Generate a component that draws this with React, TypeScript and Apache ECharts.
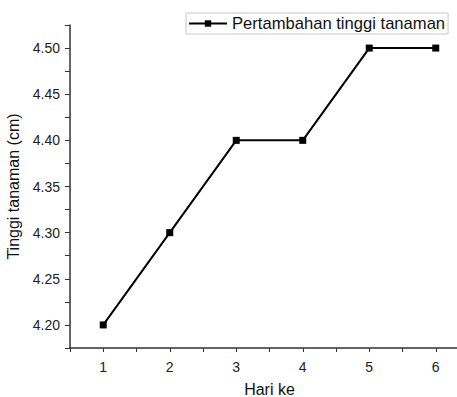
import React, { useEffect, useRef } from "react";
import * as echarts from "echarts";

const days = [1, 2, 3, 4, 5, 6];
const heights = [4.2, 4.3, 4.4, 4.4, 4.5, 4.5];
const seriesName = "Pertambahan tinggi tanaman";
const xName = "Hari ke";
const yName = "Tinggi tanaman (cm)";

export default function App() {
  const ref = useRef<HTMLDivElement>(null);
  useEffect(() => {
    if (!ref.current) return;
    const chart = echarts.init(ref.current, null, { renderer: "svg" });
    const font = "Liberation Sans, Arial, sans-serif";
    chart.setOption({
      animation: false,
      backgroundColor: "#ffffff",
      grid: { left: 70, right: -12, top: 25, bottom: 49, outerBoundsMode: "none", containLabel: false },
      legend: {
        left: 186,
        top: 13,
        data: [seriesName],
        itemWidth: 38,
        itemHeight: 8,
        itemGap: 4,
        padding: [2, 3, 2, 2],
        borderColor: "#c8c8c8",
        borderWidth: 1,
        textStyle: { fontFamily: font, fontSize: 16.6, color: "#111" },
      },
      xAxis: {
        type: "value",
        min: 0.5,
        max: 6.5,
        interval: 0.5,
        name: xName,
        nameLocation: "middle",
        nameGap: 33,
        nameTextStyle: { fontFamily: font, fontSize: 16, color: "#111" },
        axisLine: { show: true, onZero: false, lineStyle: { color: "#333", width: 1.5 } },
        axisTick: { show: true, length: 4, lineStyle: { color: "#333" } },
        splitLine: { show: false },
        axisLabel: {
          fontFamily: font,
          fontSize: 14,
          color: "#222",
          margin: 12,
          formatter: (v: number) => (Math.abs(v - Math.round(v)) < 1e-6 && v >= 1 && v <= 6 ? String(Math.round(v)) : ""),
        },
      },
      yAxis: {
        type: "value",
        min: 4.175,
        max: 4.525,
        interval: 0.025,
        name: yName,
        nameLocation: "middle",
        nameGap: 41,
        nameTextStyle: { fontFamily: font, fontSize: 16, color: "#111" },
        axisLine: { show: true, lineStyle: { color: "#333", width: 1.5 } },
        axisTick: { show: true, length: 5, lineStyle: { color: "#333" } },
        splitLine: { show: false },
        axisLabel: {
          fontFamily: font,
          fontSize: 14,
          color: "#222",
          margin: 10,
          formatter: (v: number) => {
            const k = Math.round(v * 1000);
            return k % 50 === 0 && k >= 4200 && k <= 4500 ? (k / 1000).toFixed(2) : "";
          },
        },
      },
      series: [
        {
          name: seriesName,
          type: "line",
          data: days.map((d, i) => [d, heights[i]]),
          symbol: "rect",
          symbolSize: 7,
          itemStyle: { color: "#000" },
          lineStyle: { color: "#000", width: 2 },
        },
      ],
    });
    return () => chart.dispose();
  }, []);
  return (
    <div
      ref={ref}
      style={{ position: "absolute", left: 0, top: 0, width: 457, height: 397 }}
    />
  );
}
